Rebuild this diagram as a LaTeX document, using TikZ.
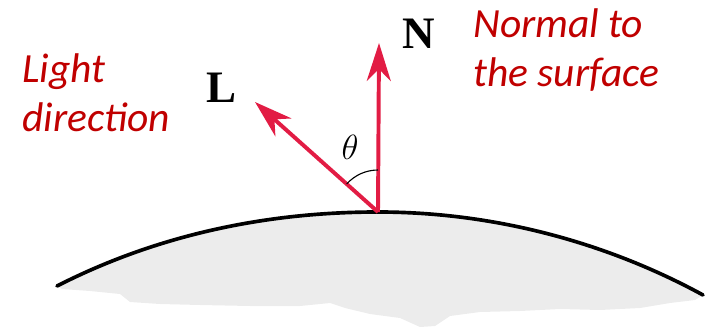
\documentclass[tikz,border=0pt]{standalone}
\usepackage{fontspec}
\setmainfont{Liberation Serif}
\newfontfamily\calibfont{Carlito}
\usetikzlibrary{arrows.meta}

\definecolor{captionred}{RGB}{192,0,0}
\definecolor{vectorred}{RGB}{226,28,68}
\definecolor{surfacegray}{RGB}{236,236,236}

\begin{document}
\begin{tikzpicture}[x=0.025cm, y=0.025cm,
  vec/.style={draw=vectorred, line width=2.8pt,
              -{Stealth[length=0.95cm, width=0.6cm, inset=0.3cm]}},
  caption/.style={text=captionred, inner sep=0pt, align=left, anchor=base west,
                  font=\calibfont\itshape\fontsize{29.5pt}{35.5pt}\selectfont},
  letter/.style={font=\fontsize{32pt}{34pt}\selectfont\bfseries}]
\useasboundingbox (0,0) rectangle (720,328);

\coordinate (hit) at (378,116);
\coordinate (ntip) at (379,285);
\coordinate (ltip) at (255,226);
\coordinate (surfL) at (57,42);
\coordinate (surfR) at (703,33);

% surface body and its edge
\fill[surfacegray] (surfL) .. controls (157,93) and (266,116) .. (hit)
      .. controls (491,116) and (604,87) .. (surfR)
      -- (695,28) -- (670,25) -- (640,20) -- (600,18) -- (560,19) -- (520,17)
      -- (480,16) -- (450,12) -- (435,2) -- (420,1) -- (400,10) -- (370,14)
      -- (345,20) -- (330,25) -- (300,22) -- (250,22) -- (200,23) -- (160,24)
      -- (130,26) -- (120,34) -- (90,37) -- (62,39) -- cycle;
\draw[line width=2.6pt, line cap=round] (surfL) .. controls (157,93) and (266,116) .. (hit)
      .. controls (491,116) and (604,87) .. (surfR);

% vectors
\draw[vec] (hit) -- (ntip);
\draw[vec] (hit) -- (ltip);
\draw[line width=0.8pt] (hit) ++(90:42) arc[start angle=90, end angle=138.2, radius=42];

\node[letter] (nlab) at (419,294) {N};
\node[letter] (llab) at (222,240) {L};
\node[font=\fontsize{35pt}{38pt}\selectfont] (theta) at (350,181) {$\theta$};

\node[caption] (lightcap) at (22,196) {Light\\direction};
\node[caption] (normalcap) at (473,241) {Normal to\\the surface};
\end{tikzpicture}
\end{document}
